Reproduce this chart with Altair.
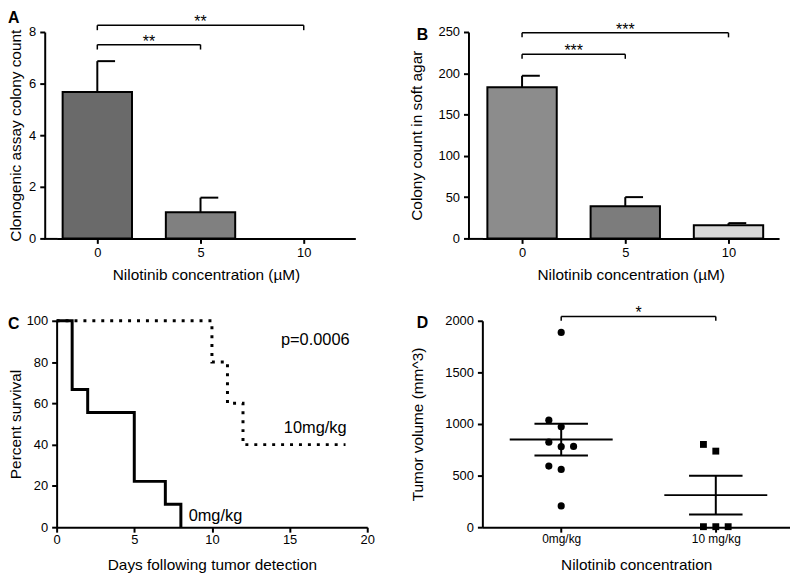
import altair as alt
import pandas as pd

FONT = "Liberation Sans"

# ---------------- Panel A : clonogenic assay ----------------
a_conc = [0, 5, 10]
a_mean = [5.67, 1.01, 0.0]
a_err = [1.20, 0.57, 0.0]
a_fill = ["#6a6a6a", "#808080", "#ffffff"]
a_br_x1 = [0, 0]
a_br_x2 = [5, 10]
a_br_y = [7.51, 8.26]
a_br_txt = ["**", "**"]

# ---------------- Panel B : soft agar ----------------
b_conc = [0, 5, 10]
b_mean = [183, 39, 16]
b_err = [14, 11, 2.5]
b_fill = ["#8c8c8c", "#7c7c7c", "#d8d8d8"]
b_br_x1 = [0, 0]
b_br_x2 = [5, 10]
b_br_y = [223, 249]
b_br_txt = ["***", "***"]

# ---------------- Panel C : survival ----------------
c_ctrl_day = [0, 1, 2, 5, 7, 8]
c_ctrl_surv = [100, 66.7, 55.6, 22.2, 11.1, 0]
c_nilo_day = [0, 10, 11, 12, 18.6]
c_nilo_surv = [100, 80, 60, 40, 40]
c_ann_day = [14.44, 14.63, 8.5]
c_ann_surv = [88.5, 45.7, 2.9]
c_ann_txt = ["p=0.0006", "10mg/kg", "0mg/kg"]

# ---------------- Panel D : tumour volume ----------------
d_groups = ["0mg/kg", "10 mg/kg"]
d_ctrl_vol = [1887, 1037, 973, 824, 780, 783, 592, 560, 206]
d_ctrl_jit = [0, -0.08, 0, -0.08, 0, 0.08, -0.08, 0, 0]
d_nilo_vol = [802, 737, 5, 5, 5]
d_nilo_jit = [-0.08, 0, -0.08, 0, 0.08]
d_br_x1 = [0]
d_br_x2 = [1]
d_br_y = [2042]
d_br_txt = ["*"]

TICK_FS = 13
TITLE_FS = 15.5
STAR_FS = 16
H = 208


def qx(field, sc, ax):
    return alt.X(field, type="quantitative", scale=sc, axis=ax)


def qy(field, sc, ax):
    return alt.Y(field, type="quantitative", scale=sc, axis=ax)


def letter(txt, x, y, baseline):
    return alt.Chart(pd.DataFrame({"t": [txt]})).mark_text(
        font=FONT, fontSize=16, fontWeight="bold", align="left",
        baseline=baseline, color="black"
    ).encode(text="t:N", x=alt.value(x), y=alt.value(y))


def axis_join(off):
    # short piece of x-axis line joining an offset y-axis to the plot area
    return alt.Chart(pd.DataFrame({"t": [0]})).mark_rule(
        color="black", strokeWidth=2
    ).encode(x=alt.value(-off - 0.5), x2=alt.value(1), y=alt.value(H + 0.5))


def brackets(x1, x2, y, txt, drop, sx, sy, ax, ay):
    df = pd.DataFrame({"x1": x1, "x2": x2, "y": y, "t": txt})
    base = alt.Chart(df).transform_calculate(
        yb=f"datum.y - {drop}", xm="(datum.x1 + datum.x2) / 2"
    )
    h = base.mark_rule(color="black", strokeWidth=1.5).encode(
        x=qx("x1", sx, ax), x2="x2:Q", y=qy("y", sy, ay))
    l = base.mark_rule(color="black", strokeWidth=1.5).encode(
        x=qx("x1", sx, ax), y=qy("y", sy, ay), y2="yb:Q")
    r = base.mark_rule(color="black", strokeWidth=1.5).encode(
        x=qx("x2", sx, ax), y=qy("y", sy, ay), y2="yb:Q")
    t = base.mark_text(font=FONT, fontSize=STAR_FS, baseline="alphabetic",
                       align="center", dy=2, color="black").encode(
        x=qx("xm", sx, ax), y=qy("y", sy, ay), text="t:N")
    return [h, l, r, t]


def bar_panel(conc, mean, err, fill, sx, sy, ax, ay):
    df = pd.DataFrame({"conc": conc, "mean": mean, "err": err, "fill": fill})
    base = alt.Chart(df).transform_calculate(
        l="datum.conc - 1.68", r="datum.conc + 1.68",
        top="datum.mean + datum.err", cr="datum.conc + 0.86")
    ebar = base.transform_filter("datum.err > 0").mark_rule(
        color="black", strokeWidth=2).encode(
        x=qx("conc", sx, ax), y=qy("mean", sy, ay), y2="top:Q")
    cap = base.transform_filter("datum.err > 0").mark_rule(
        color="black", strokeWidth=2).encode(
        x=qx("conc", sx, ax), x2="cr:Q", y=qy("top", sy, ay))
    bars = base.transform_filter("datum.mean > 0").mark_rect(
        stroke="black", strokeWidth=2).encode(
        x=qx("l", sx, ax), x2="r:Q", y=qy("mean", sy, ay), y2=alt.datum(0),
        fill=alt.Fill("fill:N", scale=None))
    return [ebar, cap, bars]


# ---------- A ----------
sxA = alt.Scale(domain=[-1.971, 12.5], nice=False, zero=False)
syA = alt.Scale(domain=[0, 8], nice=False)
axXA = alt.Axis(values=a_conc, title="Nilotinib concentration (µM)", labelPadding=3,
                minExtent=29, maxExtent=29, titlePadding=0)
axYA = alt.Axis(values=[0, 2, 4, 6, 8], title="Clonogenic assay colony count",
                offset=12, labelPadding=4, minExtent=21, maxExtent=21, titlePadding=0)
panelA = alt.layer(
    axis_join(12),
    *bar_panel(a_conc, a_mean, a_err, a_fill, sxA, syA, axXA, axYA),
    *brackets(a_br_x1, a_br_x2, a_br_y, a_br_txt, 0.19, sxA, syA, axXA, axYA),
    letter("A", -49, -22, "top"),
).properties(width=301, height=H)

# ---------- B ----------
sxB = alt.Scale(domain=[-1.923, 12.45], nice=False, zero=False)
syB = alt.Scale(domain=[0, 250], nice=False)
axXB = alt.Axis(values=b_conc, title="Nilotinib concentration (µM)", labelPadding=3,
                minExtent=29, maxExtent=29, titlePadding=0)
axYB = alt.Axis(values=[0, 50, 100, 150, 200, 250], title="Colony count in soft agar",
                offset=14, labelPadding=4, minExtent=44, maxExtent=44, titlePadding=0)
panelB = alt.layer(
    axis_join(14),
    *bar_panel(b_conc, b_mean, b_err, b_fill, sxB, syB, axXB, axYB),
    *brackets(b_br_x1, b_br_x2, b_br_y, b_br_txt, 5.5, sxB, syB, axXB, axYB),
    letter("B", -66, 3, "middle"),
).properties(width=299, height=H)

# ---------- C ----------
sxC = alt.Scale(domain=[0, 20], nice=False)
syC = alt.Scale(domain=[0, 100], nice=False)
axXC = alt.Axis(values=[0, 5, 10, 15, 20], title="Days following tumor detection",
                labelPadding=1, minExtent=31, maxExtent=31, titlePadding=0)
axYC = alt.Axis(values=[0, 20, 40, 60, 80, 100], title="Percent survival",
                labelPadding=4, minExtent=33, maxExtent=33, titlePadding=0)
c_ctrl = pd.DataFrame({"day": c_ctrl_day, "surv": c_ctrl_surv})
c_nilo = pd.DataFrame({"day": c_nilo_day, "surv": c_nilo_surv})
c_ann = pd.DataFrame({"day": c_ann_day, "surv": c_ann_surv, "t": c_ann_txt})
line_nilo = alt.Chart(c_nilo).mark_line(
    interpolate="step-after", color="black", strokeWidth=3,
    strokeDash=[3, 6], strokeCap="butt").encode(
    x=qx("day", sxC, axXC), y=qy("surv", syC, axYC))
line_ctrl = alt.Chart(c_ctrl).mark_line(
    interpolate="step-after", color="black", strokeWidth=3).encode(
    x=qx("day", sxC, axXC), y=qy("surv", syC, axYC))
c_text = alt.Chart(c_ann).mark_text(
    font=FONT, fontSize=16.5, align="left", baseline="alphabetic", color="black"
).encode(x=qx("day", sxC, axXC), y=qy("surv", syC, axYC), text="t:N")
panelC = alt.layer(
    line_nilo, line_ctrl, c_text, letter("C", -49, 3, "middle")
).properties(width=313, height=H)

# ---------- D ----------
sxD = alt.Scale(domain=[-0.51, 1.48], nice=False, zero=False)
syD = alt.Scale(domain=[0, 2000], nice=False)
axXD = alt.Axis(values=[0, 1], title="Nilotinib concentration", labelPadding=1,
                labelFontSize=12,
                labelExpr=f"datum.value == 0 ? '{d_groups[0]}' : '{d_groups[1]}'",
                minExtent=31, maxExtent=31, titlePadding=0)
axYD = alt.Axis(values=[0, 500, 1000, 1500, 2000], format="d",
                title="Tumor volume (mm^3)",
                labelPadding=4, minExtent=57, maxExtent=57, titlePadding=0)
d_df = pd.DataFrame({
    "gi": [0] * len(d_ctrl_vol) + [1] * len(d_nilo_vol),
    "jit": d_ctrl_jit + d_nilo_jit,
    "vol": d_ctrl_vol + d_nilo_vol,
})
d_pts = alt.Chart(d_df).transform_calculate(xp="datum.gi + datum.jit")
d_circ = d_pts.transform_filter("datum.gi == 0").mark_circle(
    size=52, color="black", opacity=1).encode(
    x=qx("xp", sxD, axXD), y=qy("vol", syD, axYD))
d_sq = d_pts.transform_filter("datum.gi == 1").mark_square(
    size=48, color="black", opacity=1).encode(
    x=qx("xp", sxD, axXD), y=qy("vol", syD, axYD))
d_stat = alt.Chart(d_df).transform_aggregate(
    m="mean(vol)", se="stderr(vol)", groupby=["gi"]
).transform_calculate(
    lo="datum.m - datum.se", hi="datum.m + datum.se",
    ml="datum.gi - 0.333", mr="datum.gi + 0.333",
    sl="datum.gi - 0.173", sr="datum.gi + 0.173")
d_mean = d_stat.mark_rule(color="black", strokeWidth=2).encode(
    x=qx("ml", sxD, axXD), x2="mr:Q", y=qy("m", syD, axYD))
d_hi = d_stat.mark_rule(color="black", strokeWidth=2).encode(
    x=qx("sl", sxD, axXD), x2="sr:Q", y=qy("hi", syD, axYD))
d_lo = d_stat.mark_rule(color="black", strokeWidth=2).encode(
    x=qx("sl", sxD, axXD), x2="sr:Q", y=qy("lo", syD, axYD))
d_vert = d_stat.mark_rule(color="black", strokeWidth=2).encode(
    x=qx("gi", sxD, axXD), y=qy("lo", syD, axYD), y2="hi:Q")
panelD = alt.layer(
    d_mean, d_hi, d_lo, d_vert, d_circ, d_sq,
    *brackets(d_br_x1, d_br_x2, d_br_y, d_br_txt, 42, sxD, syD, axXD, axYD),
    letter("D", -66, 2, "middle"),
).properties(width=310, height=H)

chart = alt.concat(
    panelA, panelB, panelC, panelD,
    columns=2,
    bounds="flush",
    spacing=alt.RowColnumber(row=83, column=116),
).properties(padding=0, background="white").configure_view(
    stroke=None
).configure_axis(
    domainColor="black", domainWidth=2, tickColor="black", tickWidth=2,
    tickSize=5, labelColor="black", labelFont=FONT, labelFontSize=TICK_FS,
    titleFont=FONT, titleFontSize=TITLE_FS, titleFontWeight="normal",
    titleColor="black", grid=False, labelFlush=False, labelOverlap=False,
)

chart.save("out.html", embed_options={"renderer": "svg", "actions": False})
